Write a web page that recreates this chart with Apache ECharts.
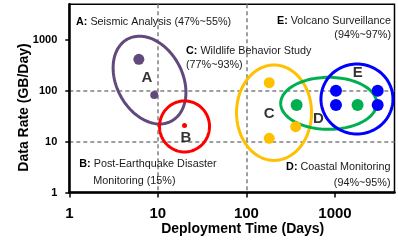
<!DOCTYPE html>
<html><head><meta charset="utf-8">
<script src="https://cdn.jsdelivr.net/npm/echarts@6/dist/echarts.min.js"></script>
<style>html,body{margin:0;padding:0;background:#fff;}#c{width:398px;height:242px;}</style>
</head><body><div id="c"></div>
<script>
// ---- data ----
const xTicks = [1, 10, 100, 1000];
const yTicks = [1, 10, 100, 1000];
const xName = 'Deployment Time (Days)';
const yName = 'Data Rate (GB/Day)';
const seriesA = [[6.1, 420], [9.1, 83]];
const seriesB = [[20, 21]];
const seriesC = [[181, 146], [360, 19.8], [181, 11.7]];
const seriesD = [[369, 53], [1800, 53]];
const seriesE = [[1026, 101], [1026, 53], [3034, 101], [3034, 53]];
const clusterLetters = ['A', 'B', 'C', 'D', 'E'];
const clusterLetterAt = [[7.5, 180], [20.8, 11.9], [181, 35.2], [648, 28.1], [1805, 223]];
const clusterCenters = [[8.05, 164], [20, 20], [205, 37.3], [849, 57.1], [1771, 69.5]];
const notes = [
  ['A:', 'Seismic Analysis (47%~55%)'],
  ['B:', 'Post-Earthquake Disaster'], ['', 'Monitoring (15%)'],
  ['C:', 'Wildlife Behavior Study'], ['', '(77%~93%)'],
  ['D:', 'Coastal Monitoring'], ['', '(94%~95%)'],
  ['E:', 'Volcano Surveillance'], ['', '(94%~97%)']
];

// ---- styles ----
const colors = ['#604A7B', '#FF0000', '#FFC000', '#00B050', '#0000FF'];
const dotSizes = [[11, 8], [5], [11, 11, 11], [12, 12], [12, 12, 12, 12]];
const ellipseShapes = [
  {rx: 33, ry: 46.5, rot: -28},
  {rx: 25, ry: 25.5, rot: 0},
  {rx: 37.5, ry: 47.7, rot: 0},
  {rx: 48, ry: 26, rot: 0},
  {rx: 36, ry: 35, rot: 0}
];
const notePos = [
  {x: 76, y: 21.7, align: 'left'},
  {x: 79.3, y: 164.3, align: 'left'}, {x: 93.3, y: 180.7, align: 'left'},
  {x: 186, y: 51, align: 'left'}, {x: 186, y: 65.5, align: 'left'},
  {x: 390.5, y: 166.7, align: 'right'}, {x: 390.5, y: 182.7, align: 'right'},
  {x: 391, y: 20.7, align: 'right'}, {x: 391, y: 35, align: 'right'}
];

// narrow font detection
function hasFont(name) {
  const cv = document.createElement('canvas').getContext('2d');
  const s = 'Surveillance Monitoring 0123';
  cv.font = '20px monospace'; const w1 = cv.measureText(s).width;
  cv.font = "20px '" + name + "', monospace"; const w2 = cv.measureText(s).width;
  return Math.abs(w1 - w2) > 0.5;
}
const narrow = hasFont('Liberation Sans Narrow');
const noteFamily = narrow ? "'Liberation Sans Narrow'" : "'Liberation Sans', Arial";
const noteSize = narrow ? 13 : 10.8;
const sansFamily = "'Liberation Sans', Arial, sans-serif";

const chart = echarts.init(document.getElementById('c'), null, {renderer: 'canvas'});

const dotSeries = [seriesA, seriesB, seriesC, seriesD, seriesE].map((d, i) => ({
  type: 'scatter', data: d, z: 5, silent: true,
  symbol: 'circle',
  symbolSize: (v, p) => dotSizes[i][p.dataIndex],
  itemStyle: {color: colors[i], opacity: 1}
}));

const ellipseSeries = clusterCenters.map((c, i) => ({
  type: 'custom', data: [c], z: 4, clip: false, silent: true,
  renderItem: (params, api) => {
    const p = api.coord([api.value(0), api.value(1)]);
    const s = ellipseShapes[i];
    const phi = s.rot * Math.PI / 180;
    const pts = [];
    for (let k = 0; k < 120; k++) {
      const t = k / 120 * Math.PI * 2;
      const x = s.rx * Math.cos(t), y = s.ry * Math.sin(t);
      pts.push([p[0] + x * Math.cos(phi) - y * Math.sin(phi), p[1] + x * Math.sin(phi) + y * Math.cos(phi)]);
    }
    return {type: 'polygon', shape: {points: pts}, style: {fill: 'none', stroke: colors[i], lineWidth: 3}};
  }
}));

const letterSeries = {
  type: 'scatter', z: 6, silent: true, symbolSize: 0,
  data: clusterLetterAt.map((p, i) => [p[0], p[1], clusterLetters[i]]),
  label: {show: true, position: 'inside', formatter: p => p.value[2],
    fontFamily: sansFamily, fontSize: 15, fontWeight: 'bold', color: '#000'}
};

const graphics = notes.map((n, i) => ({
  type: 'text', z: 10, silent: true,
  x: notePos[i].x, y: notePos[i].y,
  style: {
    text: (n[0] ? '{b|' + n[0] + '} ' : '') + '{n|' + n[1] + '}',
    align: notePos[i].align, verticalAlign: 'middle',
    font: noteSize + 'px ' + noteFamily,
    rich: {
      b: {fontFamily: noteFamily, fontSize: noteSize, fontWeight: 'bold', fill: '#000'},
      n: {fontFamily: noteFamily, fontSize: noteSize, fill: '#1a1a1a'}
    }
  }
}));
graphics.push({type: 'text', z: 10, silent: true, x: 242.7, y: 229,
  style: {text: xName, align: 'center', verticalAlign: 'middle', font: 'bold 14px ' + sansFamily, fill: '#000'}});
graphics.push({type: 'text', z: 10, silent: true, x: 24, y: 107.5, rotation: Math.PI / 2,
  style: {text: yName, align: 'center', verticalAlign: 'middle', font: 'bold 14px ' + sansFamily, fill: '#000'}});

const splitStyle = {show: true, showMinLine: false, showMaxLine: false,
  lineStyle: {type: [4, 3], color: '#808080', width: 1.5}};

chart.setOption({
  animation: false,
  backgroundColor: '#fff',
  grid: {left: 69.3, right: 3.5, top: 4.3, bottom: 49.5, show: true, borderColor: '#000', borderWidth: 1.5, backgroundColor: 'transparent'},
  xAxis: {type: 'log', logBase: 10, min: 1, max: 4700,
    axisLine: {show: true, lineStyle: {color: '#000', width: 2.5}},
    axisTick: {show: true, inside: false, length: 5, customValues: xTicks, lineStyle: {color: '#000', width: 1.5}},
    axisLabel: {customValues: xTicks, formatter: v => String(Math.round(v)), margin: 14,
      fontFamily: sansFamily, fontSize: 15, fontWeight: 'bold', color: '#000'},
    splitLine: splitStyle},
  yAxis: {type: 'log', logBase: 10, min: 1, max: 5100,
    axisLine: {show: true, lineStyle: {color: '#000', width: 2.5}},
    axisTick: {show: true, inside: false, length: 4, customValues: yTicks, lineStyle: {color: '#000', width: 1.5}},
    axisLabel: {customValues: yTicks, formatter: v => String(Math.round(v)), margin: 12,
      fontFamily: sansFamily, fontSize: 11, fontWeight: 'bold', color: '#000'},
    splitLine: splitStyle},
  graphic: graphics,
  series: [...ellipseSeries, ...dotSeries, letterSeries]
});
</script></body></html>
